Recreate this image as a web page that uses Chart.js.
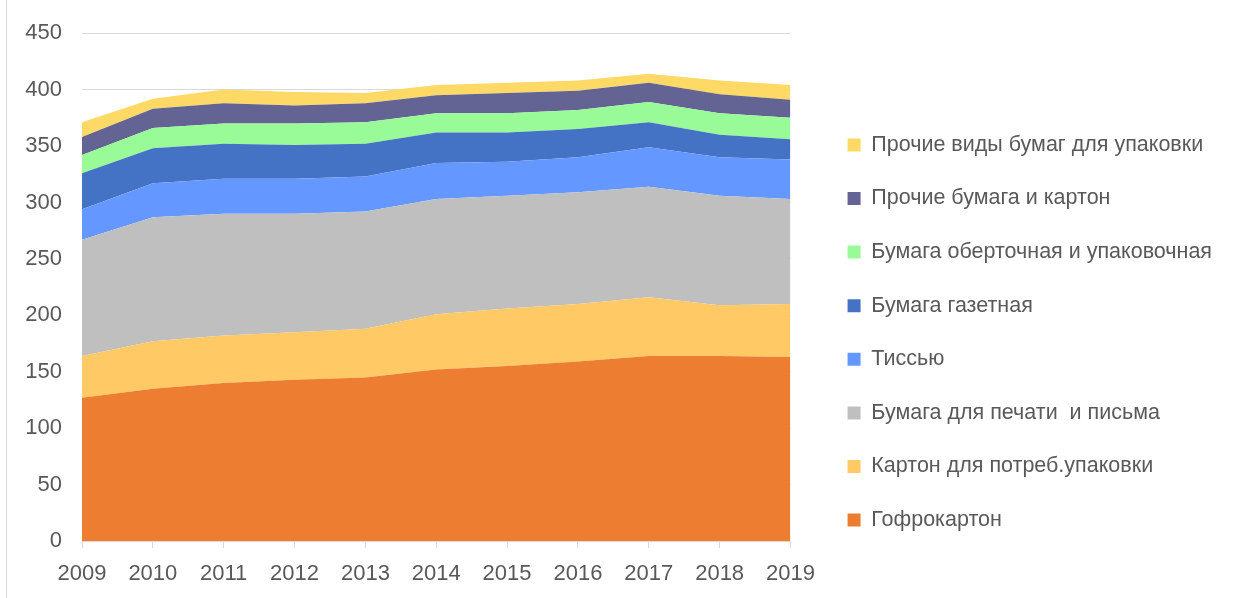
<!DOCTYPE html>
<html>
<head>
<meta charset="utf-8">
<script src="https://cdn.jsdelivr.net/npm/chart.js@4.4.1/dist/chart.umd.min.js"></script>
<style>
    body { margin: 0; background: #fff; }
    #wrap { position: relative; width: 1242px; height: 598px; }
    #frame { position: absolute; left: 6px; top: 0; width: 1px; height: 598px; background: #d9d9d9; }
</style>
</head>
<body>
<div id="wrap">
    <canvas id="paperChart" width="1242" height="598"></canvas>
    <div id="frame"></div>
</div>
<script>
// years on the x axis
const years = ['2009', '2010', '2011', '2012', '2013', '2014', '2015', '2016', '2017', '2018', '2019'];

// series values (stacked)
const gofrokarton = [127, 135, 140, 143, 145, 152, 155, 159, 164, 164, 163];
const kartonPotreb = [37, 42, 42, 42, 43, 49, 51, 51, 52, 45, 47];
const pechatPismo = [103, 110, 108, 105, 104, 102, 100, 99, 98, 97, 93];
const tissue = [27, 30, 31, 31, 31, 32, 30, 31, 35, 34, 35];
const gazetnaya = [32, 31, 31, 30, 29, 27, 26, 25, 22, 20, 18];
const obertochnaya = [16, 18, 18, 19, 19, 17, 17, 17, 18, 19, 19];
const prochieBumKarton = [16, 17, 18, 16, 17, 16, 18, 17, 17, 17, 16];
const prochieUpakovka = [13, 9, 12, 12, 9, 9, 9, 9, 8, 12, 13];

const seriesNames = [
    'Гофрокартон',
    'Картон для потреб.упаковки',
    'Бумага для печати  и письма',
    'Тиссью',
    'Бумага газетная',
    'Бумага оберточная и упаковочная',
    'Прочие бумага и картон',
    'Прочие виды бумаг для упаковки'
];
const seriesData = [gofrokarton, kartonPotreb, pechatPismo, tissue, gazetnaya, obertochnaya, prochieBumKarton, prochieUpakovka];
const seriesColors = ['#ED7D31', '#FFC965', '#BFBFBF', '#6497FF', '#4472C4', '#98FB98', '#636394', '#FFD966'];

const yTicks = [0, 50, 100, 150, 200, 250, 300, 350, 400, 450];

const textColor = '#595959';
const gridColor = '#d9d9d9';
const fontFamily = '"Liberation Sans", Arial, sans-serif';
const legendFontSize = 21.5;

const datasets = seriesNames.map(function (name, i) {
    return {
        label: name,
        data: seriesData[i],
        backgroundColor: seriesColors[i],
        borderColor: seriesColors[i],
        borderWidth: 0,
        pointRadius: 0,
        tension: 0,
        fill: i === 0 ? 'origin' : '-1'
    };
});

const ctx = document.getElementById('paperChart').getContext('2d');
const paperChart = new Chart(ctx, {
    type: 'line',
    data: {
        labels: years,
        datasets: datasets
    },
    options: {
        responsive: false,
        animation: false,
        layout: {
            padding: { top: 33, bottom: 0, left: 0, right: 20 }
        },
        plugins: {
            tooltip: { enabled: false },
            legend: {
                position: 'right',
                reverse: true,
                maxWidth: 600,
                title: {
                    display: true,
                    text: ' ',
                    font: { size: 10 },
                    padding: { top: 11, bottom: 11 }
                },
                labels: {
                    boxWidth: 13,
                    boxHeight: 13,
                    padding: 53.6 - legendFontSize,
                    color: textColor,
                    font: { family: fontFamily, size: legendFontSize }
                }
            }
        },
        scales: {
            x: {
                grid: {
                    drawOnChartArea: false,
                    drawTicks: true,
                    tickLength: 7,
                    color: gridColor
                },
                border: { color: gridColor },
                ticks: {
                    color: textColor,
                    font: { family: fontFamily, size: 22 },
                    padding: 13,
                    maxRotation: 0
                },
                afterFit: function (scale) { scale.height = 57; }
            },
            y: {
                stacked: true,
                min: 0,
                max: 450,
                afterBuildTicks: function (scale) {
                    scale.ticks = yTicks.map(function (v) { return { value: v }; });
                },
                grid: {
                    color: gridColor,
                    drawTicks: false
                },
                border: { display: false },
                ticks: {
                    color: textColor,
                    font: { family: fontFamily, size: 22 },
                    padding: 20
                },
                afterFit: function (scale) { scale.width = 82; }
            },
            spacer: {
                position: 'right',
                display: true,
                grid: { display: false },
                border: { display: false },
                ticks: { display: false },
                afterFit: function (scale) { scale.width = 25; }
            }
        }
    }
});
</script>
</body>
</html>
